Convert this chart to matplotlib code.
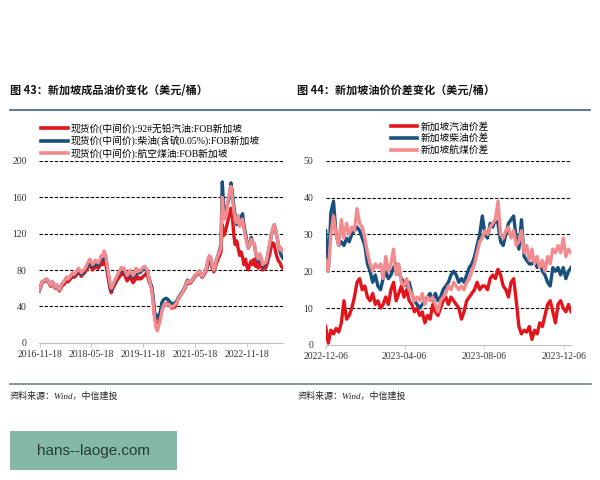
import matplotlib
matplotlib.use("Agg")
import matplotlib.pyplot as plt
import pandas as pd
from matplotlib.lines import Line2D
from matplotlib.patches import Rectangle

# ---------------- data: left chart (semi-monthly, USD/bbl) ----------------
left_start = "2016-11-15"
gasoline_92 = [57, 62, 66,
               67, 68, 69, 67, 65, 62, 66, 64, 60, 63, 59, 57, 60, 63, 64, 66, 69, 67, 69, 71, 74, 72, 73, 75,
               79, 77, 73, 75, 76, 78, 81, 83, 86, 84, 80, 82, 85, 83, 82, 85, 88, 86, 91, 88, 78, 70, 60, 55,
               60, 63, 66, 69, 71, 73, 77, 75, 77, 72, 68, 71, 74, 70, 66, 68, 75, 70, 72, 70, 71, 73, 74, 76,
               75, 68, 64, 60, 48, 30, 20, 15, 22, 28, 36, 40, 43, 42, 44, 43, 40, 38, 40, 39, 42, 47, 50, 52,
               55, 57, 60, 64, 68, 65, 66, 68, 70, 73, 74, 76, 78, 75, 72, 74, 77, 80, 86, 90, 88, 82, 78, 82,
               88, 92, 96, 100, 130, 118, 122, 128, 135, 140, 148, 140, 118, 108, 112, 104, 96, 100, 94, 86, 92, 84, 80, 86,
               90, 86, 92, 84, 88, 82, 90, 86, 80, 84, 82, 86, 92, 98, 106, 110, 108, 100, 94, 90, 88, 84, 82]
diesel_005 = [58, 63, 67,
              68, 69, 70, 68, 66, 63, 67, 65, 61, 64, 60, 58, 62, 65, 67, 69, 72, 70, 72, 74, 76, 74, 76, 78,
              81, 79, 75, 77, 79, 81, 84, 86, 89, 87, 84, 86, 88, 86, 86, 89, 93, 92, 98, 95, 84, 74, 63, 58,
              63, 66, 70, 73, 76, 78, 80, 79, 80, 76, 73, 76, 78, 75, 72, 74, 80, 76, 78, 77, 79, 81, 82, 80,
              79, 72, 66, 62, 50, 35, 26, 30, 30, 34, 44, 47, 48, 49, 48, 46, 44, 43, 42, 44, 45, 48, 51, 53,
              56, 58, 62, 66, 69, 66, 67, 69, 71, 74, 75, 77, 79, 76, 73, 75, 79, 82, 90, 94, 92, 85, 80, 84,
              92, 96, 102, 108, 177, 150, 140, 148, 155, 160, 176, 165, 150, 140, 130, 136, 132, 138, 142, 130, 120, 112, 104, 108,
              116, 110, 108, 100, 94, 90, 96, 92, 84, 86, 87, 90, 100, 108, 118, 124, 130, 124, 116, 108, 100, 96, 93]
jet_kero = [58, 63, 67,
            68, 69, 70, 68, 66, 63, 67, 65, 61, 64, 60, 58, 62, 65, 67, 69, 72, 70, 72, 74, 77, 75, 77, 79,
            82, 80, 77, 79, 80, 82, 86, 89, 92, 90, 86, 88, 91, 89, 88, 91, 96, 95, 101, 97, 86, 76, 66, 60,
            64, 67, 71, 74, 77, 80, 83, 81, 82, 78, 74, 77, 80, 77, 74, 76, 82, 78, 80, 79, 81, 83, 84, 82,
            80, 72, 64, 58, 44, 28, 16, 13, 20, 24, 35, 40, 43, 42, 43, 42, 40, 39, 40, 42, 43, 47, 50, 52,
            55, 57, 61, 65, 68, 66, 67, 69, 71, 74, 75, 77, 79, 76, 73, 75, 79, 82, 92, 96, 94, 85, 80, 84,
            92, 96, 100, 106, 160, 140, 136, 142, 158, 165, 172, 160, 145, 135, 132, 140, 128, 134, 136, 126, 116, 110, 104, 108,
            114, 108, 110, 100, 96, 92, 98, 94, 86, 88, 88, 92, 102, 110, 118, 126, 130, 124, 116, 108, 102, 104, 100]
left_labels = ["现货价(中间价):92#无铅汽油:FOB新加坡",
               "现货价(中间价):柴油(含硫0.05%):FOB新加坡",
               "现货价(中间价):航空煤油:FOB新加坡"]
left_ticks = ["2016-11-18", "2018-05-18", "2019-11-18", "2021-05-18", "2022-11-18"]

# ---------------- data: right chart (every 4 days, USD/bbl) ----------------
right_start = "2022-12-06"
spread_gasoline = [5, 0.5, 4, 3, 4.5, 3.5, 6, 12, 7, 8,
                   10, 13, 17, 18, 15, 16, 13, 12, 14, 11,
                   12, 10, 11, 13, 11, 15, 17, 12, 14, 16,
                   13, 15, 12, 11, 9, 10, 8, 9, 6, 8,
                   7, 11, 9, 8, 10, 12, 13, 11, 13, 12,
                   11, 10, 7, 9, 12, 13, 14, 15, 17, 15,
                   16, 16, 15, 18, 19, 18, 20.5, 19, 16, 15,
                   13, 17, 18, 12, 5, 3, 4, 3.5, 5, 1.5,
                   4, 3, 6, 5, 8, 11, 12, 9, 6, 11,
                   12, 10, 9, 11, 9]
spread_diesel = [31, 20, 36, 39, 30, 27, 28, 27, 29, 28,
                 30, 31, 32, 31, 29, 27, 22, 20, 17, 19,
                 16, 15, 18, 20, 18, 19, 21, 22, 20, 18,
                 17, 16, 17, 14, 12, 11, 10, 11, 12, 13,
                 14, 12, 14, 12, 13, 15, 16, 17, 19, 20,
                 19, 17, 18, 17, 19, 21, 22, 24, 27, 30,
                 35, 30, 29, 33, 32, 34, 33, 28, 27, 30,
                 33, 34, 35, 29, 26, 34, 24, 23, 22, 22,
                 23, 21, 22, 20, 19, 17, 16, 21, 20, 21,
                 19, 21, 18, 20, 21]
spread_jet = [23, 20, 30, 35, 30, 27, 34, 29, 33, 30,
              32, 31, 37, 33, 32, 29, 25, 22, 20, 22,
              21, 22, 18, 24, 20, 22, 26, 19, 22, 17,
              16, 18, 15, 14, 12, 13, 12, 14, 11, 13,
              12, 13, 11, 9, 12, 13, 14, 16, 15, 17,
              16, 15, 16, 15, 17, 18, 20, 22, 25, 28,
              29, 31, 30, 32, 33, 34, 39, 30, 29, 31,
              32, 29, 31, 27, 28, 31, 25, 27, 23, 26,
              22, 24, 21, 23, 20, 24, 22, 26, 25, 27,
              25, 29, 24, 26, 25]
right_labels = ["新加坡汽油价差", "新加坡柴油价差", "新加坡航煤价差"]
right_ticks = ["2022-12-06", "2023-04-06", "2023-08-06", "2023-12-06"]

# ---------------- style ----------------
RED = "#e3151c"
BLUE = "#17507c"
PINK = "#f28b8e"
colors = [RED, BLUE, PINK]
SERIF_CJK = ["Liberation Serif", "Noto Sans CJK SC"]
BOLD_CJK = ["Noto Sans CJK SC", "DejaVu Sans"]

fig = plt.figure(figsize=(6, 4.8), dpi=100)


def style_axes(ax, yticks, ymax, tickdates, xmin, xmax):
    ax.set_ylim(0, ymax)
    ax.set_xlim(xmin, xmax)
    for s in ["left", "right", "top"]:
        ax.spines[s].set_visible(False)
    ax.spines["bottom"].set_color("#bfbfbf")
    ax.spines["bottom"].set_linewidth(0.8)
    ax.set_yticks(yticks)
    ax.set_yticklabels([str(v) for v in yticks], fontfamily="Liberation Serif",
                       fontsize=7, color="#333333")
    ax.tick_params(axis="y", length=0, pad=9)
    td = pd.to_datetime(tickdates)
    ax.set_xticks(td)
    ax.set_xticklabels(tickdates, fontfamily="Liberation Serif", fontsize=7,
                       color="#333333")
    ax.tick_params(axis="x", length=3, width=0.6, color="#bfbfbf", pad=2)
    for v in yticks[1:]:
        ax.axhline(v, color="black", lw=0.8, ls=(0, (3, 1.6)), zorder=1)


# ---------------- left chart ----------------
axL = fig.add_axes([0.0655, 0.286, 0.406, 0.3786])
ldates = pd.date_range(left_start, periods=len(gasoline_92), freq="SMS")
for ys, c in zip([gasoline_92, diesel_005, jet_kero], colors):
    axL.plot(ldates, ys, color=c, lw=2.4, zorder=3)
style_axes(axL, [0, 40, 80, 120, 160, 200], 200, left_ticks, ldates[0], ldates[-1])
handlesL = [Line2D([], [], color=c, lw=2.6) for c in colors]
fig.legend(handlesL, left_labels, loc="upper left", bbox_to_anchor=(0.069, 0.744),
           frameon=False, prop={"family": SERIF_CJK, "size": 7},
           handlelength=2.7, handletextpad=0.35, labelspacing=0.2,
           borderaxespad=0, borderpad=0)

# ---------------- right chart ----------------
axR = fig.add_axes([0.5428, 0.2813, 0.409, 0.3839])
rdates = pd.date_range(right_start, periods=len(spread_gasoline), freq="4D")
for ys, c in zip([spread_gasoline, spread_diesel, spread_jet], colors):
    axR.plot(rdates, ys, color=c, lw=2.4, zorder=3)
style_axes(axR, [0, 10, 20, 30, 40, 50], 50, right_ticks, rdates[0], rdates[-1])
handlesR = [Line2D([], [], color=c, lw=2.6) for c in colors]
fig.legend(handlesR, right_labels, loc="upper left", bbox_to_anchor=(0.651, 0.746),
           frameon=False, prop={"family": SERIF_CJK, "size": 7},
           handlelength=2.7, handletextpad=0.35, labelspacing=0.2,
           borderaxespad=0, borderpad=0)

# ---------------- titles, rules, sources ----------------
fig.text(10 / 600, 1 - 90 / 480, "图 43：新加坡成品油价变化（美元/桶）", family=BOLD_CJK,
         fontsize=8, fontweight="bold", va="center", ha="left", color="#111111")
fig.text(297 / 600, 1 - 90 / 480, "图 44：新加坡油价价差变化（美元/桶）", family=BOLD_CJK,
         fontsize=8, fontweight="bold", va="center", ha="left", color="#111111")
fig.add_artist(Line2D([10 / 600, 590 / 600], [1 - 109.5 / 480] * 2, color="#4d6d8c", lw=1.3))
fig.add_artist(Line2D([10 / 600, 591 / 600], [1 - 383.5 / 480] * 2, color="#7f8a94", lw=1.3))
fig.text(10 / 600, 1 - 396 / 480, "资料来源：Wind，中信建投", family=SERIF_CJK,
         style="italic", fontsize=6.5, va="center", ha="left", color="#222222")
fig.text(298 / 600, 1 - 396 / 480, "资料来源：Wind，中信建投", family=SERIF_CJK,
         style="italic", fontsize=6.5, va="center", ha="left", color="#222222")

# watermark box
fig.add_artist(Rectangle((10 / 600, 1 - 470 / 480), 167 / 600, 39 / 480,
                         transform=fig.transFigure, facecolor="#86b9a5", edgecolor="none"))
fig.text(93 / 600, 1 - 450.5 / 480, "hans--laoge.com", family="Liberation Sans",
         fontsize=11, color="#253a30", ha="center", va="center")

fig.savefig("out.png", dpi=100)
